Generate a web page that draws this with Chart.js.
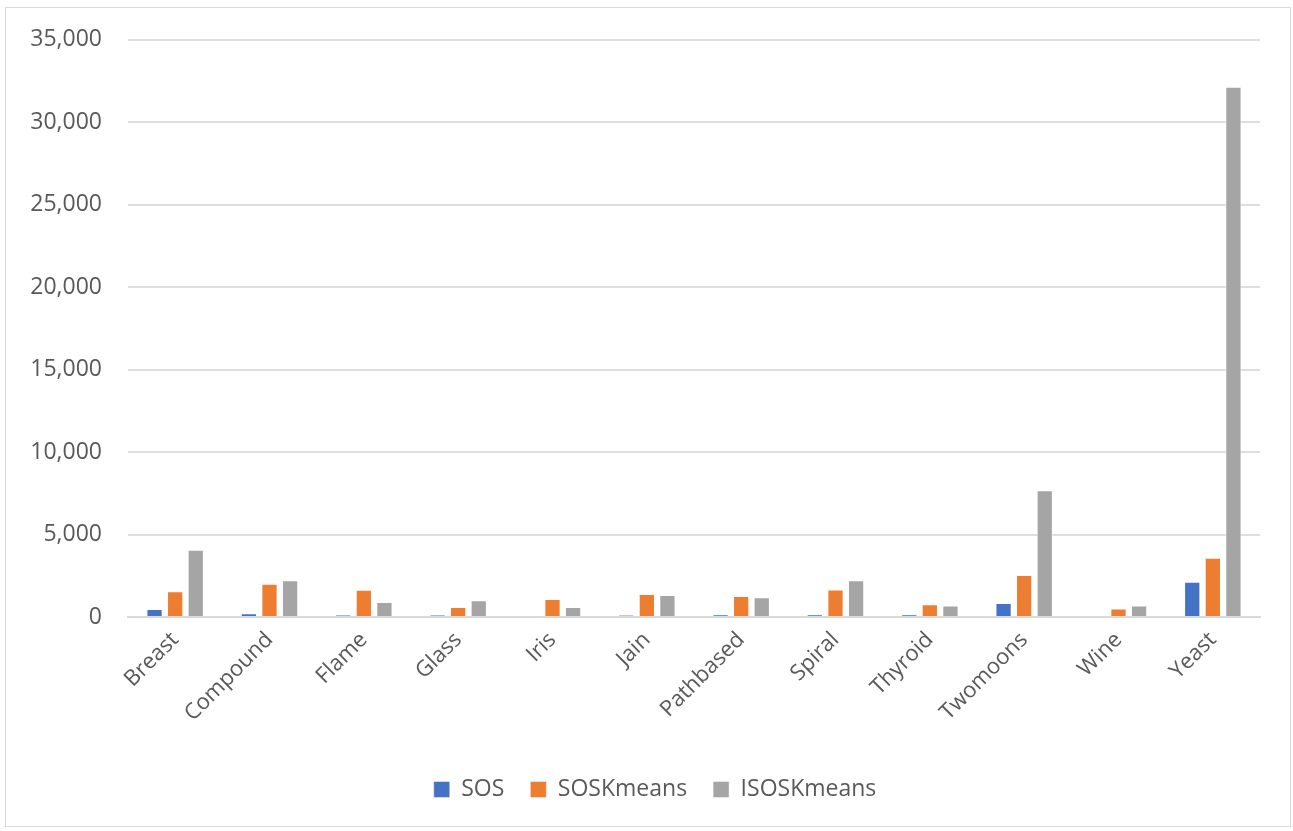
<!DOCTYPE html>
<html>
<head>
<meta charset="utf-8">
<script src="https://cdn.jsdelivr.net/npm/chart.js@4/dist/chart.umd.min.js"></script>
<style>
  html, body { margin: 0; padding: 0; background: #fff; }
  #frame {
    position: absolute; left: 5px; top: 7px;
    width: 1284px; height: 818px;
    border: 1px solid #d9d9d9;
  }
  #wrap { position: absolute; left: 0; top: 0; width: 1293px; height: 831px; }
</style>
</head>
<body>
<div id="frame"></div>
<div id="wrap"><canvas id="runtimeChart" width="1293" height="831"></canvas></div>
<script>
const datasetsNames = ["Breast", "Compound", "Flame", "Glass", "Iris", "Jain",
  "Pathbased", "Spiral", "Thyroid", "Twomoons", "Wine", "Yeast"];

const sos        = [488, 225, 122, 122, 60, 110, 150, 150, 140, 854, 70, 2134];
const sosKmeans  = [1567, 2012, 1646, 610, 1098, 1402, 1280, 1666, 772, 2540, 508, 3597];
const isosKmeans = [4085, 2236, 915, 1016, 610, 1341, 1200, 2236, 690, 7680, 690, 32150];

const yTicks = [0, 5000, 10000, 15000, 20000, 25000, 30000, 35000];

const textColor = "#595959";
const fontFamily = "'Open Sans', 'Noto Sans', sans-serif";

function makeBars(label, values, color) {
  return {
    label: label,
    data: values,
    backgroundColor: color,
    borderColor: "rgba(255,255,255,0.6)",
    borderWidth: { top: 1, left: 1, right: 1, bottom: 0 },
    categoryPercentage: 0.655,
    barPercentage: 0.79
  };
}

// legend sits centred on the whole frame, not on the padded chart box
const legendNudge = {
  id: "legendNudge",
  afterLayout(chart) {
    chart.legend.left += 25;
    chart.legend.right += 25;
  }
};

const ctx = document.getElementById("runtimeChart").getContext("2d");

new Chart(ctx, {
  type: "bar",
  data: {
    labels: datasetsNames,
    datasets: [
      makeBars("SOS", sos, "#4472C4"),
      makeBars("SOSKmeans", sosKmeans, "#ED7D31"),
      makeBars("ISOSKmeans", isosKmeans, "#A5A5A5")
    ]
  },
  plugins: [legendNudge],
  options: {
    responsive: false,
    animation: false,
    layout: { padding: { left: 0, right: 33, top: 38, bottom: 20 } },
    plugins: {
      legend: {
        position: "bottom",
        labels: {
          color: textColor,
          font: { family: fontFamily, size: 23 },
          boxWidth: 16,
          boxHeight: 16,
          padding: 26
        }
      },
      tooltip: { enabled: false }
    },
    scales: {
      x: {
        grid: { display: false },
        border: { display: true, color: "#d9d9d9", width: 2 },
        ticks: {
          color: textColor,
          font: { family: fontFamily, size: 22 },
          maxRotation: 45,
          minRotation: 45,
          padding: 2
        },
        afterFit: scale => { scale.height = 135; }
      },
      y: {
        min: 0,
        max: 35000,
        afterBuildTicks: scale => { scale.ticks = yTicks.map(v => ({ value: v })); },
        grid: { color: "#dedede", lineWidth: 2, drawTicks: false },
        border: { display: false },
        ticks: {
          color: textColor,
          font: { family: fontFamily, size: 23 },
          padding: 26,
          callback: v => v.toLocaleString("en-US")
        },
        afterFit: scale => { scale.width = 128; }
      }
    }
  }
});
</script>
</body>
</html>
